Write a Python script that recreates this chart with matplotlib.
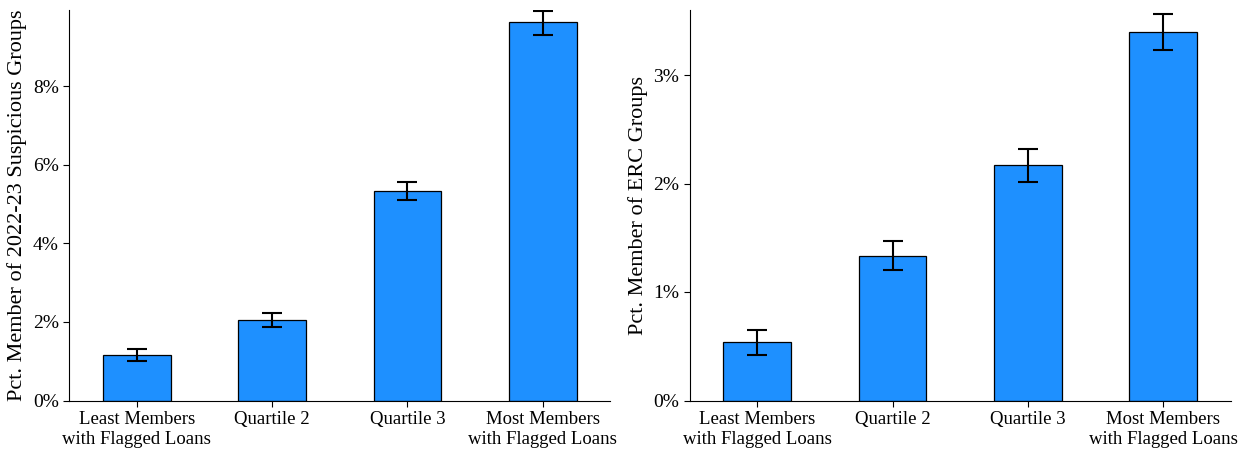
import numpy as np
import matplotlib.pyplot as plt
from matplotlib.ticker import FuncFormatter

# ----------------------------
# Data
# ----------------------------

categories = ["Least Members\nwith Flagged Loans", "Quartile 2",
              "Quartile 3", "Most Members\nwith Flagged Loans"]

susp_pct = [1.15, 2.04, 5.34, 9.62]
susp_lo  = [1.00, 1.87, 5.11, 9.31]
susp_hi  = [1.30, 2.22, 5.57, 9.90]

erc_pct = [0.535, 1.33, 2.17, 3.40]
erc_lo  = [0.42, 1.20, 2.01, 3.23]
erc_hi  = [0.65, 1.47, 2.32, 3.56]

plt.rcParams["font.family"] = ["Liberation Serif", "DejaVu Serif"]

fig, axes = plt.subplots(1, 2, figsize=(12.51, 4.5), dpi=100)


def draw(ax, vals, lo, hi, ylabel, ymax, ticks):
    x = np.arange(len(categories))
    vals = np.array(vals)
    err = [vals - np.array(lo), np.array(hi) - vals]
    ax.bar(x, vals, width=0.5, color="#1E90FF", edgecolor="black", linewidth=0.9)
    ax.errorbar(x, vals, yerr=err, fmt="none", ecolor="black",
                elinewidth=1.5, capsize=7.5, capthick=1.5)
    ax.set_xlim(-0.5, 3.5)
    ax.set_ylim(0, ymax)
    ax.set_yticks(ticks)
    ax.yaxis.set_major_formatter(FuncFormatter(lambda v, p: f"{v:.0f}%"))
    ax.set_xticks(x)
    ax.set_xticklabels(categories, fontsize=13.5, linespacing=1.25)
    ax.tick_params(axis="y", labelsize=14)
    ax.tick_params(length=4, width=0.8)
    ax.set_ylabel(ylabel, fontsize=16)
    for s in ["top", "right"]:
        ax.spines[s].set_visible(False)


draw(axes[0], susp_pct, susp_lo, susp_hi,
     "Pct. Member of 2022-23 Suspicious Groups", 9.94, [0, 2, 4, 6, 8])
draw(axes[1], erc_pct, erc_lo, erc_hi,
     "Pct. Member of ERC Groups", 3.60, [0, 1, 2, 3])

fig.subplots_adjust(left=0.0552, right=0.984, bottom=0.11, top=0.978, wspace=0.146)
fig.savefig("out.png", dpi=100)
